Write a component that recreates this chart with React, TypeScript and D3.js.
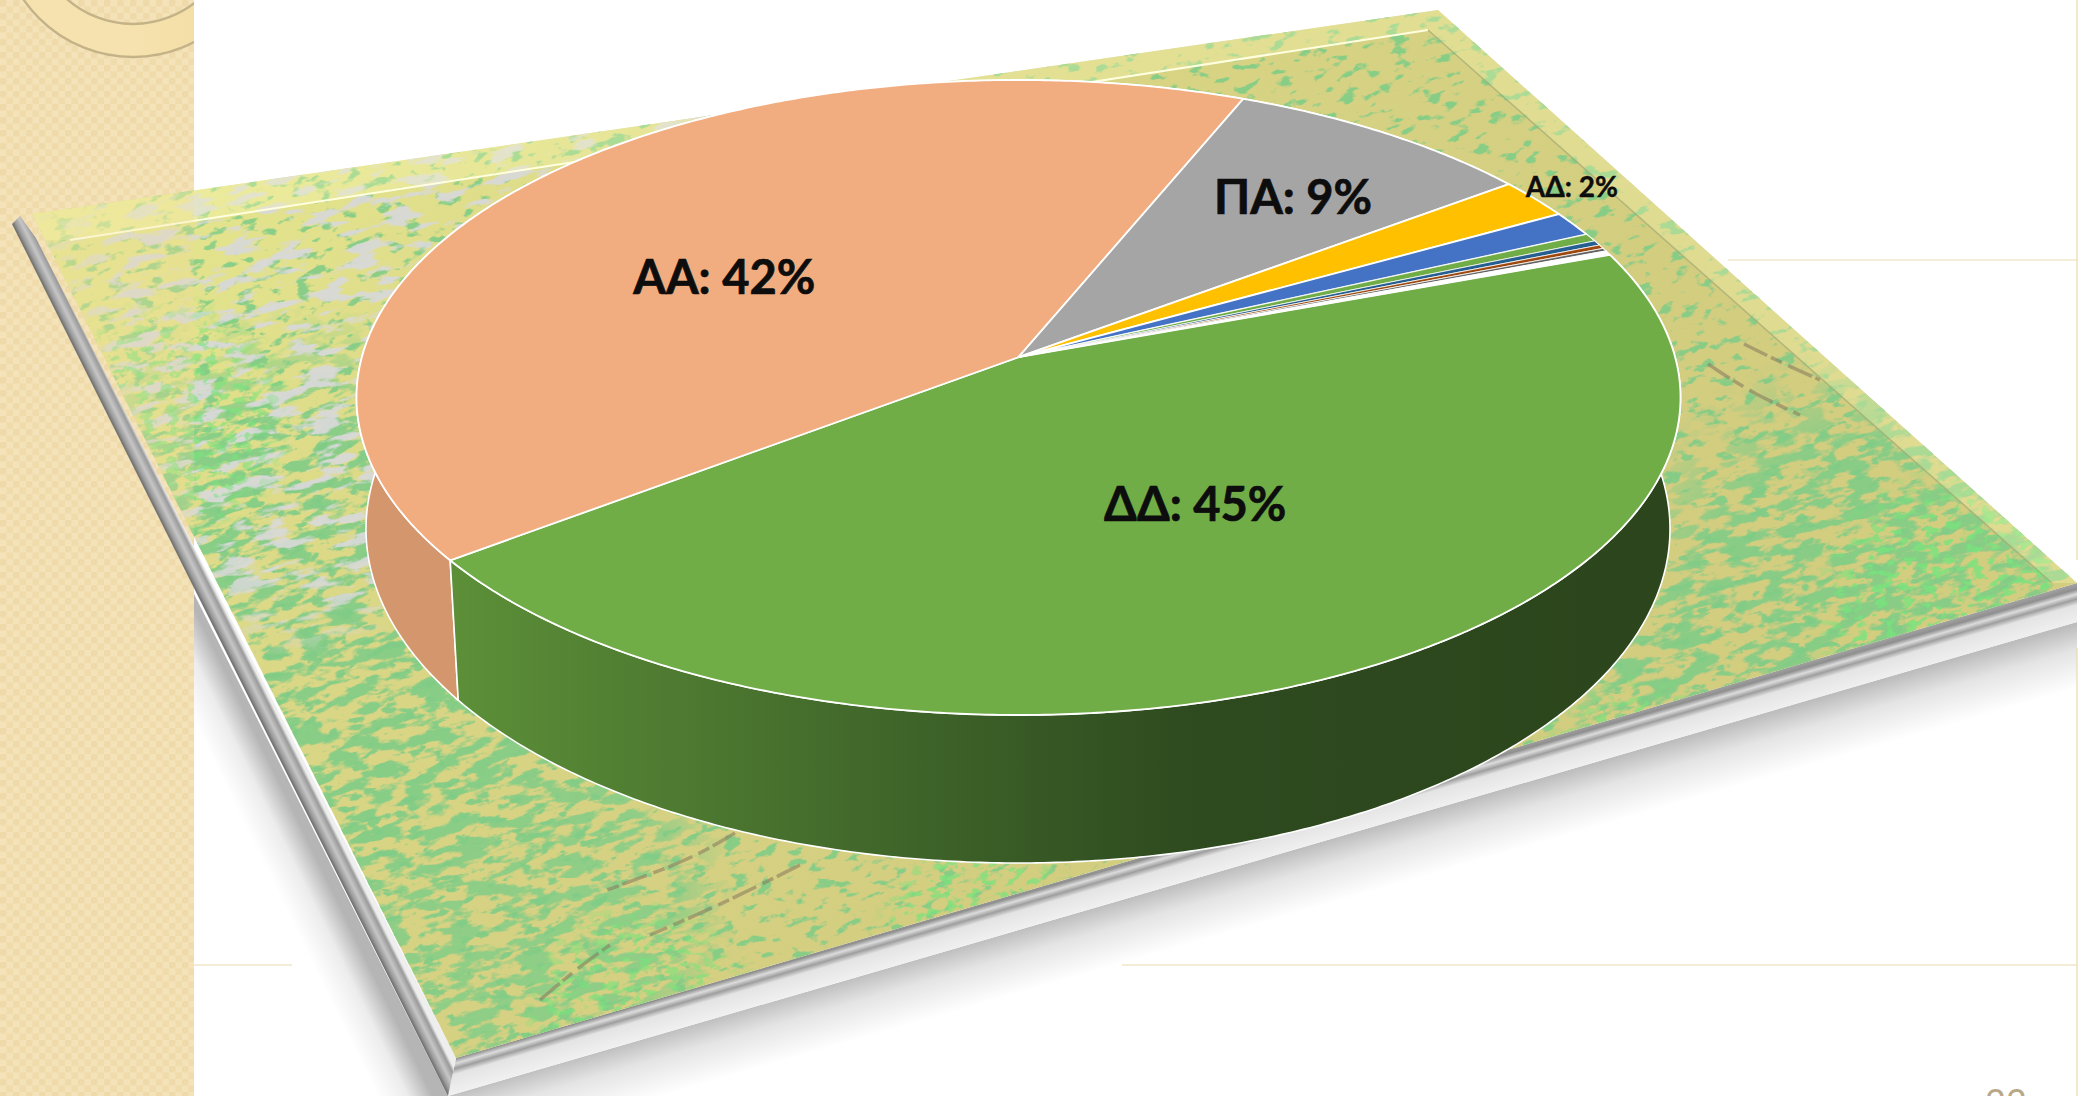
import { useRef, useEffect } from 'react'
import * as d3 from 'd3'

// Pie values (clockwise, starting from the right edge of the big green slice)
const categories = ['ΔΔ', 'ΑΑ', 'ΠΑ', 'ΑΔ', '', '', '', '', '', '']
const shares = [45.3, 41.5, 8.6, 2.07, 1.3, 0.4, 0.25, 0.2, 0.15, 0.23]
const sliceColors = ['#70ad47', '#f1ad7f', '#a5a5a5', '#ffc000', '#4472c4', '#70ad47', '#255e91', '#9e480e', '#636363', '#ffffff']

const pageNumber = '22'

const W = 2089
const H = 1096
const PANEL = 194
const EDGE = 2077

const topFace = { cx: 1018.5, cy: 397.5, rx: 662, ry: 317.5 }
const bottomFace = { cx: 1018, cy: 529, rx: 652, ry: 334 }
// how far the apex sits above the middle of the ellipse (the slide's perspective)
const TILT = -0.127

type Face = typeof topFace

const project = (deg: number, r: number, f: Face): [number, number] => {
  const a = (deg * Math.PI) / 180
  const u = r * Math.sin(a)
  const v = -r * Math.cos(a)
  const d = 1 + TILT * v
  return [f.cx + (f.rx * u * Math.sqrt(1 - TILT * TILT)) / d, f.cy + (f.ry * (v + TILT)) / d]
}

const rimAngles = (a0: number, a1: number) => [...d3.range(a0, a1, 0.5), a1]
const toDeg = (rad: number) => (rad * 180) / Math.PI

// label placement inside the disc: angle, radius, font size
const labelAnchors = [
  { deg: 150, r: 0.508, size: 47 },
  { deg: 300, r: 0.535, size: 47 },
  { deg: 39, r: 0.711, size: 47 },
  { deg: 57, r: 1.08, size: 28 },
]

export default function App() {
  const ref = useRef<SVGSVGElement>(null)

  useEffect(() => {
    if (!ref.current) return
    const svg = d3.select(ref.current)
    svg.selectAll('*').remove()
    const defs = svg.append('defs')

    const gradient = (id: string, x1: number, y1: number, x2: number, y2: number, stops: [number, string][]) => {
      const g = defs
        .append('linearGradient')
        .attr('id', id)
        .attr('gradientUnits', 'userSpaceOnUse')
        .attr('x1', x1)
        .attr('y1', y1)
        .attr('x2', x2)
        .attr('y2', y2)
      stops.forEach(([o, c]) => g.append('stop').attr('offset', o).attr('stop-color', c))
    }

    // Side panel pattern
    const tile = defs
      .append('pattern')
      .attr('id', 'panelTile')
      .attr('patternUnits', 'userSpaceOnUse')
      .attr('width', 13)
      .attr('height', 13)
    tile.append('rect').attr('width', 13).attr('height', 13).attr('fill', '#f4e2b9')
    tile.append('rect').attr('width', 6.5).attr('height', 6.5).attr('fill', '#f0dbab')
    tile.append('rect').attr('x', 6.5).attr('y', 6.5).attr('width', 6.5).attr('height', 6.5).attr('fill', '#f0dbab')
    tile.append('circle').attr('cx', 3.2).attr('cy', 3.2).attr('r', 2).attr('fill', 'none').attr('stroke', '#ecd6a6').attr('stroke-width', 0.8)

    defs.append('clipPath').attr('id', 'panelClip').append('rect').attr('width', PANEL).attr('height', H)
    defs.append('clipPath').attr('id', 'slideClip').append('rect').attr('width', EDGE).attr('height', H)
    defs.append('clipPath').attr('id', 'whiteClip').append('rect').attr('x', PANEL).attr('width', EDGE - PANEL).attr('height', H)

    svg.append('rect').attr('width', W).attr('height', H).attr('fill', '#ffffff')
    svg.append('rect').attr('width', PANEL).attr('height', H).attr('fill', 'url(#panelTile)')

    gradient('ringFill', 0, 0, PANEL, 0, [[0, '#f6e2ae'], [1, '#efd798']])
    const rings = svg.append('g').attr('clip-path', 'url(#panelClip)')
    rings
      .append('path')
      .attr('d', d3.arc()({ innerRadius: 100, outerRadius: 133, startAngle: 0, endAngle: 2 * Math.PI }) as string)
      .attr('transform', 'translate(133,-76)')
      .attr('fill', 'url(#ringFill)')
      .attr('stroke', '#c4b388')
      .attr('stroke-width', 2.4)

    // Board shadow and bevels
    const poly = (parent: any, pts: [number, number][], fill: string) =>
      parent.append('path').attr('d', d3.line()(pts) + 'Z').attr('fill', fill)

    const board = svg.append('g').attr('clip-path', 'url(#slideClip)')

    gradient('shadowLow', 1200, 877, 1217, 936, [[0, '#bdbdbd'], [0.4, '#e4e4e4'], [1, '#ffffff']])
    poly(board, [[448, 1096], [EDGE, 622], [EDGE, 720], [448, 1190]], 'url(#shadowLow)')

    gradient('shadowLeft', 210, 640, 165, 662, [[0, '#b5b5b5'], [0.45, '#ececec'], [1, '#ffffff']])
    const leftShadow = board.append('g').attr('clip-path', 'url(#whiteClip)')
    poly(leftShadow, [[190, 586], [448, 1096], [330, 1096], [120, 660]], 'url(#shadowLeft)')

    // Slide rules sit on top of the white part of the shadow
    const rule = (x1: number, y1: number, x2: number, y2: number) =>
      svg.append('line').attr('x1', x1).attr('y1', y1).attr('x2', x2).attr('y2', y2).attr('stroke', '#ead9ae').attr('stroke-width', 1.2)
    rule(1728, 260, EDGE, 260)
    rule(PANEL, 965, 292, 965)
    rule(1122, 965, EDGE, 965)
    rule(EDGE, 0, EDGE, 560)
    rule(EDGE, 648, EDGE, H)

    gradient('bevelLow', 1200, 838, 1211, 876, [
      [0, '#a0a0a0'], [0.12, '#8f8f8f'], [0.24, '#dcdcdc'], [0.36, '#9e9e9e'], [0.5, '#e4e4e4'], [1, '#f1f1f1'],
    ])
    poly(board, [[456, 1058], [EDGE, 583], [EDGE, 622], [448, 1096]], 'url(#bevelLow)')

    gradient('bevelLeft', 197, 594, 213, 586, [
      [0, '#6a6a6a'], [0.22, '#9c9c9c'], [0.5, '#c6c6c6'], [0.82, '#9a9a9a'], [1, '#eeeeee'],
    ])
    poly(board, [[12, 224], [20, 216], [36, 238], [456, 1058], [448, 1096]], 'url(#bevelLeft)')

    // Map surface: noise layers thresholded into patches
    const surface: [number, number][] = [[32, 214], [1438, 10], [EDGE, 583], [456, 1058]]
    defs.append('clipPath').attr('id', 'mapClip').append('path').attr('d', d3.line()(surface) + 'Z')

    const noise = (id: string, fx: number, fy: number, seed: number, rgb: [number, number, number], gain: number, cut: number) => {
      const f = defs
        .append('filter')
        .attr('id', id)
        .attr('filterUnits', 'userSpaceOnUse')
        .attr('x', -400)
        .attr('y', -600)
        .attr('width', 3000)
        .attr('height', 2400)
        .attr('color-interpolation-filters', 'sRGB')
      f.append('feTurbulence').attr('type', 'fractalNoise').attr('baseFrequency', `${fx} ${fy}`).attr('numOctaves', 5).attr('seed', seed)
      f.append('feColorMatrix')
        .attr('type', 'matrix')
        .attr('values', `0 0 0 0 ${rgb[0]} 0 0 0 0 ${rgb[1]} 0 0 0 0 ${rgb[2]} ${gain} 0 0 0 ${-gain * cut}`)
    }
    noise('nGreenDense', 0.03, 0.085, 4, [0.5, 0.8, 0.53], 9, 0.47)
    noise('nGreenSparse', 0.05, 0.11, 9, [0.5, 0.8, 0.53], 9, 0.58)
    noise('nBright', 0.08, 0.14, 14, [0.47, 0.89, 0.49], 9, 0.53)
    noise('nGray', 0.025, 0.09, 21, [0.85, 0.85, 0.85], 9, 0.53)

    const blobMask = (id: string, blobs: [number, number, number, number][]) => {
      const m = defs.append('mask').attr('id', id).attr('maskUnits', 'userSpaceOnUse').attr('x', 0).attr('y', 0).attr('width', W).attr('height', H)
      blobs.forEach(([cx, cy, r, o], i) => {
        const g = defs.append('radialGradient').attr('id', `${id}B${i}`)
        g.append('stop').attr('offset', 0).attr('stop-color', '#fff').attr('stop-opacity', o)
        g.append('stop').attr('offset', 0.65).attr('stop-color', '#fff').attr('stop-opacity', o)
        g.append('stop').attr('offset', 1).attr('stop-color', '#fff').attr('stop-opacity', 0)
        m.append('circle').attr('cx', cx).attr('cy', cy).attr('r', r).attr('fill', `url(#${id}B${i})`)
      })
    }
    blobMask('mDense', [[300, 640, 340, 1], [520, 900, 220, 0.9], [1880, 640, 300, 1], [1720, 720, 170, 1]])
    blobMask('mBright', [[1950, 610, 150, 0.9], [1640, 790, 120, 0.8], [980, 930, 110, 0.8], [640, 1020, 130, 0.7], [170, 420, 130, 0.7]])
    blobMask('mGray', [[340, 290, 330, 1], [700, 130, 280, 1], [300, 500, 160, 0.9]])
    blobMask('mSparse', [[1040, 520, 1300, 1]])

    gradient('mapBase', 100, 200, 900, 1000, [[0, '#e6e68f'], [0.45, '#d9d685'], [1, '#d3cd80']])
    const map = board.append('g').attr('clip-path', 'url(#mapClip)')
    map.append('rect').attr('width', W).attr('height', H).attr('fill', 'url(#mapBase)')

    const noiseLayer = (filterId: string, maskId: string, opacity: number) =>
      map
        .append('g')
        .attr('mask', `url(#${maskId})`)
        .attr('opacity', opacity)
        .append('rect')
        .attr('x', -300)
        .attr('y', -500)
        .attr('width', 2800)
        .attr('height', 2200)
        .attr('transform', `rotate(-14 ${W / 2} ${H / 2})`)
        .attr('filter', `url(#${filterId})`)
    noiseLayer('nGreenSparse', 'mSparse', 0.9)
    noiseLayer('nGreenDense', 'mDense', 0.9)
    noiseLayer('nGray', 'mGray', 0.95)
    noiseLayer('nBright', 'mBright', 0.9)

    // Dark ridges on the map
    const ridges: [number, number][][] = [
      [[735, 833], [690, 860], [607, 890]],
      [[800, 865], [720, 905], [650, 935]],
      [[1744, 344], [1780, 362], [1820, 380]],
      [[1708, 364], [1750, 392], [1800, 415]],
      [[540, 1000], [575, 970], [610, 945]],
    ]
    ridges.forEach((pts) =>
      map
        .append('path')
        .attr('d', d3.line().curve(d3.curveBasis)(pts))
        .attr('fill', 'none')
        .attr('stroke', '#85795c')
        .attr('stroke-opacity', 0.55)
        .attr('stroke-width', 3.5)
        .attr('stroke-dasharray', '26 4 12 7')
    )

    // Lighter rim along the two far edges
    poly(map, [[32, 214], [1438, 10], [EDGE, 583], [2052, 583], [1428, 30], [70, 240], [40, 240]], '#fbfbb8').attr('opacity', 0.3)
    map
      .append('path')
      .attr('d', d3.line()([[70, 240], [1428, 30]]))
      .attr('stroke', '#ffffe0')
      .attr('stroke-width', 2)
    map
      .append('path')
      .attr('d', d3.line()([[1428, 30], [2052, 583]]))
      .attr('stroke', '#a3a874')
      .attr('stroke-width', 1.5)
      .attr('stroke-opacity', 0.7)

    // Side panel shows through the corner of the board
    svg
      .append('g')
      .attr('clip-path', 'url(#mapClip)')
      .append('rect')
      .attr('width', PANEL)
      .attr('height', H)
      .attr('fill', '#f0dc9a')
      .attr('opacity', 0.25)

    // Pie
    const arcs = d3.pie<number>().sort(null).startAngle((70 * Math.PI) / 180).endAngle((430 * Math.PI) / 180)(shares)
    const line = d3.line()

    gradient('wallGreen', 456, 0, 1690, 0, [[0, '#5c8f38'], [0.35, '#40662a'], [0.6, '#2e4a1f'], [1, '#2c451c']])

    // walls first: the top faces cover everything that faces away
    const pie = svg.append('g')
    const wallOrder = d3.range(shares.length).reverse()
    wallOrder.forEach((i) => {
      const a = arcs[i]
      const degs = rimAngles(toDeg(a.startAngle), toDeg(a.endAngle))
      const pts = [...degs.map((d) => project(d, 1, bottomFace)), ...[...degs].reverse().map((d) => project(d, 1, topFace))]
      const fill = i === 0 ? 'url(#wallGreen)' : i === 1 ? '#d4966c' : (d3.color(sliceColors[i]) as d3.RGBColor).darker(0.6).formatHex()
      pie
        .append('path')
        .attr('d', line(pts) + 'Z')
        .attr('fill', fill)
        .attr('stroke', '#ffffff')
        .attr('stroke-width', 1.6)
        .attr('stroke-linejoin', 'round')
    })

    const apex = project(0, 0, topFace)
    arcs.forEach((a, i) => {
      const rim = rimAngles(toDeg(a.startAngle), toDeg(a.endAngle)).map((d) => project(d, 1, topFace))
      pie
        .append('path')
        .attr('d', line([apex, ...rim]) + 'Z')
        .attr('fill', sliceColors[i])
        .attr('stroke', '#ffffff')
        .attr('stroke-width', i >= 5 ? 0.8 : 1.8)
        .attr('stroke-linejoin', 'round')
    })

    // Labels
    labelAnchors.forEach((l, i) => {
      const [x, y] = project(l.deg, l.r, topFace)
      svg
        .append('text')
        .attr('x', x)
        .attr('y', y)
        .attr('text-anchor', 'middle')
        .attr('dominant-baseline', 'central')
        .attr('font-family', 'Lato, "Noto Sans", sans-serif')
        .attr('font-weight', 700)
        .attr('font-size', l.size)
        .attr('fill', '#0d0d0d')
        .attr('stroke', '#0d0d0d')
        .attr('stroke-width', l.size > 30 ? 0.7 : 0.4)
        .text(`${categories[i]}: ${Math.round(shares[i])}%`)
    })

    svg
      .append('text')
      .attr('x', 2006)
      .attr('y', 1115)
      .attr('text-anchor', 'middle')
      .attr('font-family', 'Lato, sans-serif')
      .attr('font-size', 36)
      .attr('fill', '#b8a888')
      .text(pageNumber)
  }, [])

  return <svg ref={ref} width={W} height={H} style={{ position: 'fixed', left: 0, top: 0, display: 'block' }} />
}
